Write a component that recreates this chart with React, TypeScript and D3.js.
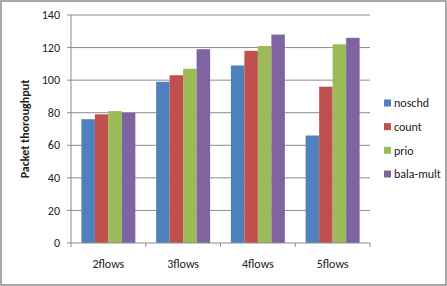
import React from "react";
import * as d3 from "d3";

const categories = ["2flows", "3flows", "4flows", "5flows"];
const seriesNames = ["noschd", "count", "prio", "bala-mult"];
const noschd = [76, 99, 109, 66];
const count = [79, 103, 118, 96];
const prio = [81, 107, 121, 122];
const balaMult = [80, 119, 128, 126];
const yTicks = [0, 20, 40, 60, 80, 100, 120, 140];
const colors = ["#4F81BD", "#C0504D", "#9BBB59", "#8064A2"];

const W = 447, H = 286;
const L = 71, R = 370, T = 15, B = 243;
const font = "Carlito, Calibri, 'Open Sans', 'Noto Sans', sans-serif";

export default function App() {
  const series = [noschd, count, prio, balaMult];
  const x = d3.scaleBand<string>().domain(categories).range([L, R]).paddingInner(0).paddingOuter(0);
  const inner = d3.scaleBand<string>().domain(seriesNames).range([0, x.bandwidth()]).paddingOuter(0.77).paddingInner(0);
  const y = d3.scaleLinear().domain([0, 140]).range([B, T]);
  const legendY = d3.scalePoint<string>().domain(seriesNames).range([103, 174]);
  return (
    <svg width={W} height={H} style={{ position: "absolute", left: 0, top: 0, display: "block" }}>
      <rect x={0} y={0} width={W} height={H} fill="#fff" />
      <rect x={1} y={1} width={W - 2} height={H - 2} fill="none" stroke="#8c8c8c" strokeWidth={1.5} />
      {yTicks.map((t) => (
        <g key={t}>
          {t > 0 && <line x1={L} x2={R} y1={y(t)} y2={y(t)} stroke="#8c8c8c" strokeWidth={1} />}
          <line x1={L - 4} x2={L} y1={y(t)} y2={y(t)} stroke="#8c8c8c" />
          <text x={L - 11} y={y(t)} dy="0.35em" textAnchor="end" fontSize={12} fontFamily={font} fill="#222">{t}</text>
        </g>
      ))}
      {categories.map((c, i) => (
        <g key={c}>
          {series.map((s, j) => (
            <rect key={j} x={(x(c) as number) + (inner(seriesNames[j]) as number)} y={y(s[i])}
              width={inner.bandwidth()} height={y(0) - y(s[i])} fill={colors[j]} />
          ))}
          <text x={(x(c) as number) + x.bandwidth() / 2} y={264} dy="0.35em" textAnchor="middle" fontSize={12} fontFamily={font} fill="#222">{c}</text>
        </g>
      ))}
      {[...categories.map((c) => x(c) as number), R].map((v, i) => (
        <line key={i} x1={v} x2={v} y1={B} y2={B + 4} stroke="#8c8c8c" />
      ))}
      <line x1={L} x2={L} y1={T} y2={B} stroke="#8c8c8c" />
      <line x1={L} x2={R} y1={B} y2={B} stroke="#8c8c8c" />
      <text transform={`translate(25,${(T + B) / 2}) rotate(-90)`} textAnchor="middle" dy="0.35em" fontSize={12} fontWeight="bold" fontFamily={font} fill="#222">Packet thoroughput</text>
      {seriesNames.map((n, j) => (
        <g key={n}>
          <rect x={384} y={(legendY(n) as number) - 3.5} width={7} height={7} fill={colors[j]} />
          <text x={394} y={legendY(n) as number} dy="0.35em" fontSize={12} fontFamily={font} fill="#222">{n}</text>
        </g>
      ))}
    </svg>
  );
}
